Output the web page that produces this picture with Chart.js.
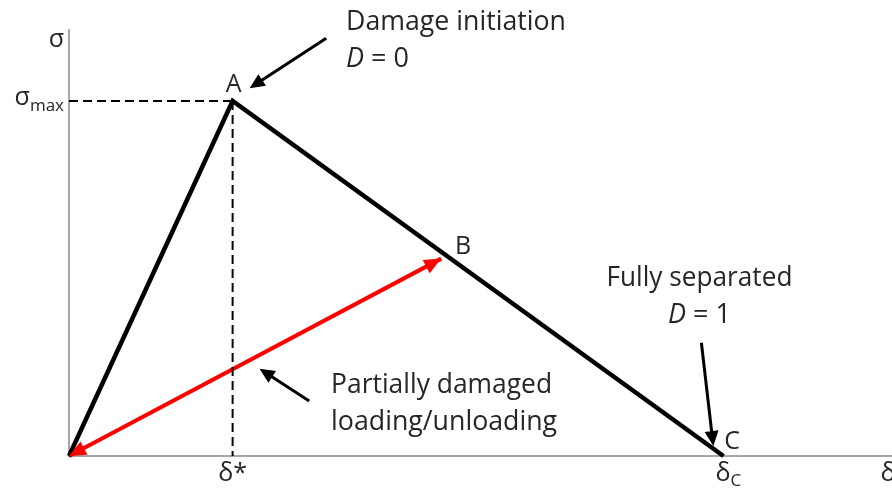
<!DOCTYPE html>
<html>
<head>
<meta charset="utf-8">
<script src="https://cdn.jsdelivr.net/npm/chart.js@4.4.1/dist/chart.umd.min.js"></script>
<style>
  html, body { margin: 0; padding: 0; background: #fff; }
  #wrap { width: 892px; height: 491px; }
</style>
</head>
<body>
<div id="wrap"><canvas id="c"></canvas></div>
<script>
// Traction-separation law (bilinear), in units of delta* and sigma_max
const lawDelta = [0, 1, 4];
const lawSigma = [0, 1, 0];
// partial unloading / reloading path (origin <-> B)
const reloadDelta = [0, 2.275];
const reloadSigma = [0, 0.556];
// peak used for the dashed guide lines
const peakDelta = 1;
const peakSigma = 1;

const xTickValues = [1, 4];
const xTickLabels = [{ main: 'δ*', sub: '' }, { main: 'δ', sub: 'C' }];
const yTickValues = [1];
const yTickLabels = [{ main: 'σ', sub: 'max' }];
const xAxisName = 'δ';
const yAxisName = 'σ';

const FONT = '"Open Sans", "DejaVu Sans", sans-serif';
const INK = '#262626';

// Annotations, placed in data units (delta, sigma)
const notes = [
    { lines: [[{ t: 'Damage initiation' }], [{ t: 'D', it: true }, { t: ' = 0' }]], x: 1.693, y: [1.2, 1.0955], align: 'left', w: [220, 0] },
    { lines: [[{ t: 'Partially damaged' }], [{ t: 'loading/unloading' }]], x: 1.602, y: [0.178, 0.0734], align: 'left', w: [221, 226] },
    { lines: [[{ t: 'Fully separated' }], [{ t: 'D', it: true }, { t: ' = 1' }]], x: 3.853, y: [0.48, 0.3755], align: 'center', w: [186, 0] },
];
const pointLabels = [
    { t: 'A', x: 1.007, y: 1.025 },
    { t: 'B', x: 2.409, y: 0.570 },
    { t: 'C', x: 4.053, y: 0.020 },
];
const pointerArrows = [
    { from: [1.572, 1.177], to: [1.104, 1.036] },
    { from: [1.468, 0.155], to: [1.165, 0.2456] },
    { from: [3.865, 0.319], to: [3.938, 0.028] },
];

function drawRich(ctx, parts, x, y, align, size, maxW) {
    const segs = parts.map(p => {
        const sz = p.size || size;
        const font = (p.it ? 'italic ' : '') + sz + 'px ' + FONT;
        ctx.font = font;
        return { ...p, font, w: ctx.measureText(p.t).width };
    });
    let total = segs.reduce((s, p) => s + p.w, 0);
    const k = maxW && total > maxW ? maxW / total : 1;
    total *= k;
    let cx = align === 'center' ? x - total / 2 : align === 'right' ? x - total : x;
    ctx.save();
    ctx.fillStyle = INK;
    ctx.textBaseline = 'alphabetic';
    ctx.textAlign = 'left';
    segs.forEach(p => {
        ctx.font = p.font;
        ctx.fillText(p.t, cx, y + (p.dy || 0), p.w * k);
        cx += p.w * k;
    });
    ctx.restore();
}

function arrowHead(ctx, x0, y0, x1, y1, len, half, color) {
    const a = Math.atan2(y1 - y0, x1 - x0);
    ctx.save();
    ctx.fillStyle = color;
    ctx.beginPath();
    ctx.moveTo(x1, y1);
    ctx.lineTo(x1 - len * Math.cos(a) + half * Math.sin(a), y1 - len * Math.sin(a) - half * Math.cos(a));
    ctx.lineTo(x1 - len * Math.cos(a) - half * Math.sin(a), y1 - len * Math.sin(a) + half * Math.cos(a));
    ctx.closePath();
    ctx.fill();
    ctx.restore();
}

const decorPlugin = {
    id: 'decor',
    afterDatasetsDraw(chart) {
        const { ctx, scales: { x, y } } = chart;
        const px = v => x.getPixelForValue(v);
        const py = v => y.getPixelForValue(v);

        // red double arrow heads
        const rx0 = px(reloadDelta[0]), ry0 = py(reloadSigma[0]);
        const rx1 = px(reloadDelta[1]), ry1 = py(reloadSigma[1]);
        arrowHead(ctx, rx0, ry0, rx1, ry1, 17, 7.5, '#f00');
        arrowHead(ctx, rx1, ry1, rx0, ry0, 17, 7.5, '#f00');

        // pointer arrows
        pointerArrows.forEach(a => {
            const x0 = px(a.from[0]), y0 = py(a.from[1]);
            const x1 = px(a.to[0]), y1 = py(a.to[1]);
            const ang = Math.atan2(y1 - y0, x1 - x0);
            ctx.save();
            ctx.strokeStyle = '#000';
            ctx.lineWidth = 3;
            ctx.beginPath();
            ctx.moveTo(x0, y0);
            ctx.lineTo(x1 - 10 * Math.cos(ang), y1 - 10 * Math.sin(ang));
            ctx.stroke();
            ctx.restore();
            arrowHead(ctx, x0, y0, x1, y1, 15, 7, '#000');
        });

        // notes
        notes.forEach(n => {
            n.lines.forEach((parts, i) => {
                drawRich(ctx, parts, px(n.x), py(n.y[i]), n.align, 27, n.w[i] || 0);
            });
        });
        pointLabels.forEach(p => drawRich(ctx, [{ t: p.t }], px(p.x), py(p.y), 'center', 25));

        // tick labels
        xTickValues.forEach((v, i) => {
            const l = xTickLabels[i];
            const parts = [{ t: l.main }];
            if (l.sub) parts.push({ t: l.sub, size: 17, dy: 5 });
            drawRich(ctx, parts, px(v) + (l.sub ? 5 : 0), y.bottom + 25, 'center', 25);
        });
        yTickValues.forEach((v, i) => {
            const l = yTickLabels[i];
            drawRich(ctx, [{ t: l.main }, { t: l.sub, size: 17, dy: 6 }], x.left - 5, py(v) + 4, 'right', 25);
        });
        drawRich(ctx, [{ t: yAxisName }], x.left - 5, y.top + 17, 'right', 25);
        drawRich(ctx, [{ t: xAxisName }], px(4.96), y.bottom + 25, 'left', 25);
    }
};

new Chart(document.getElementById('c'), {
    type: 'scatter',
    data: {
        datasets: [
            {
                label: 'guide-h',
                data: [{ x: 0, y: peakSigma }, { x: peakDelta, y: peakSigma }],
                showLine: true, borderColor: '#000', borderWidth: 2, borderDash: [9, 5],
                pointRadius: 0, clip: false,
            },
            {
                label: 'guide-v',
                data: [{ x: peakDelta, y: peakSigma }, { x: peakDelta, y: 0 }],
                showLine: true, borderColor: '#000', borderWidth: 2, borderDash: [9, 5],
                pointRadius: 0, clip: false,
            },
            {
                label: 'law',
                data: lawDelta.map((d, i) => ({ x: d, y: lawSigma[i] })),
                showLine: true, borderColor: '#000', borderWidth: 4.5,
                borderJoinStyle: 'miter', borderCapStyle: 'butt',
                pointRadius: 0, clip: false, tension: 0,
            },
            {
                label: 'reload',
                data: reloadDelta.map((d, i) => ({ x: d, y: reloadSigma[i] })),
                showLine: true, borderColor: '#f00', borderWidth: 4,
                pointRadius: 0, clip: false,
            },
        ],
    },
    options: {
        responsive: true,
        maintainAspectRatio: false,
        animation: false,
        layout: { padding: { left: 61, top: 30, right: -5, bottom: 27 } },
        plugins: { legend: { display: false }, tooltip: { enabled: false } },
        scales: {
            x: {
                type: 'linear', min: 0, max: 5.03,
                grid: { display: false },
                ticks: { display: false },
                border: { display: true, color: '#a6a6a6', width: 2 },
            },
            y: {
                type: 'linear', min: 0, max: 1.2,
                grid: { display: false },
                ticks: { display: false },
                border: { display: true, color: '#a6a6a6', width: 2 },
            },
        },
    },
    plugins: [decorPlugin],
});
</script>
</body>
</html>
